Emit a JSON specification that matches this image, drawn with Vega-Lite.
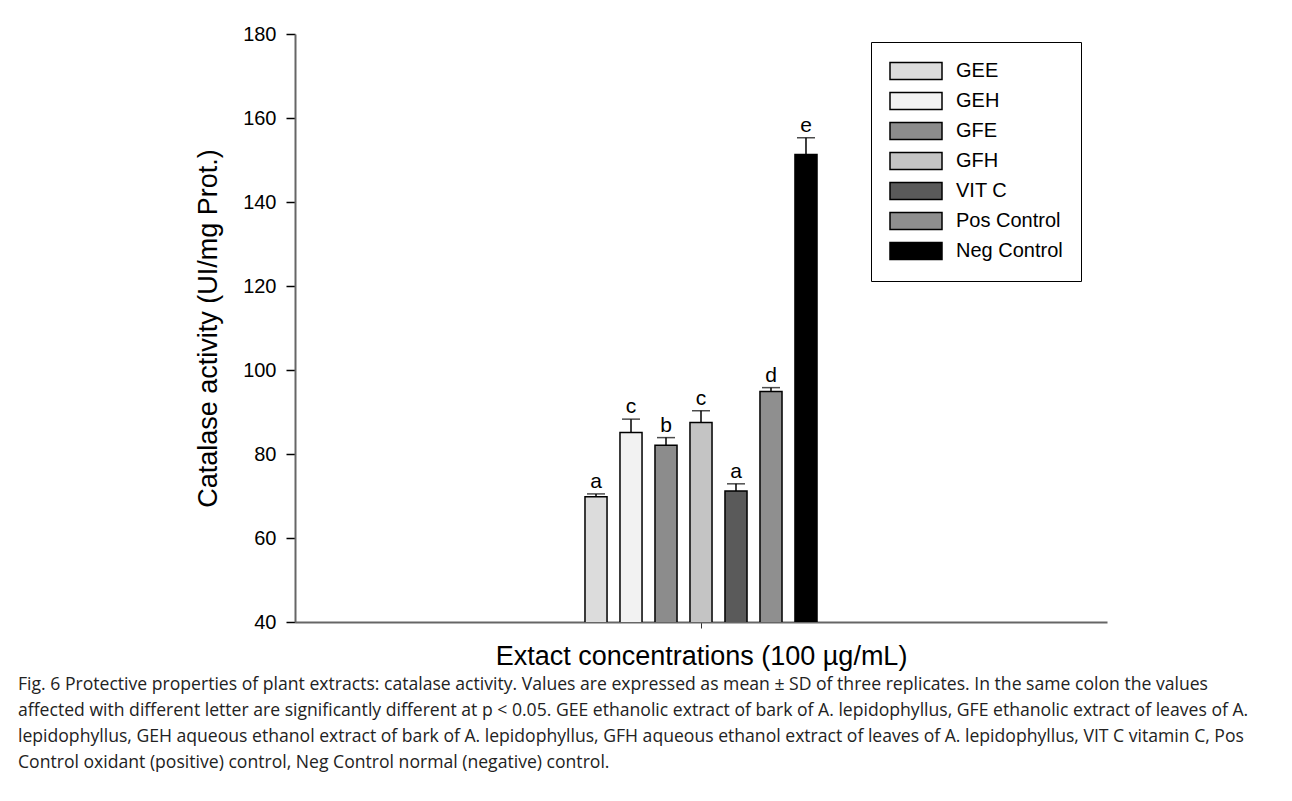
{
  "$schema": "https://vega.github.io/schema/vega-lite/v6.json",
  "autosize": {"type": "none"},
  "padding": {"left": 295, "top": 34, "right": 185, "bottom": 179},
  "width": 812,
  "height": 588,
  "background": "white",
  "config": {
    "font": "Liberation Sans",
    "view": {"stroke": null}
  },
  "title": {
    "text": [
      "Fig. 6  Protective properties of plant extracts: catalase activity. Values are expressed as mean ± SD of three replicates. In the same colon the values",
      "affected with different letter are significantly different at p < 0.05. GEE ethanolic extract of bark of A. lepidophyllus, GFE ethanolic extract of leaves of A.",
      "lepidophyllus, GEH aqueous ethanol extract of bark of A. lepidophyllus, GFH aqueous ethanol extract of leaves of A. lepidophyllus, VIT C vitamin C, Pos",
      "Control oxidant (positive) control, Neg Control normal (negative) control."
    ],
    "orient": "bottom",
    "anchor": "start",
    "frame": "group",
    "dx": -277,
    "offset": 6,
    "font": "Open Sans",
    "fontSize": 17.6,
    "fontWeight": "normal",
    "lineHeight": 26,
    "color": "#222222"
  },
  "data": {
    "values": [
      {"conc": "100 µg/mL", "group": "GEE", "mean": 69.8, "upper": 70.5, "letter": "a"},
      {"conc": "100 µg/mL", "group": "GEH", "mean": 85.1, "upper": 88.3, "letter": "c"},
      {"conc": "100 µg/mL", "group": "GFE", "mean": 82.1, "upper": 83.9, "letter": "b"},
      {"conc": "100 µg/mL", "group": "GFH", "mean": 87.5, "upper": 90.3, "letter": "c"},
      {"conc": "100 µg/mL", "group": "VIT C", "mean": 71.2, "upper": 72.9, "letter": "a"},
      {"conc": "100 µg/mL", "group": "Pos Control", "mean": 94.9, "upper": 95.8, "letter": "d"},
      {"conc": "100 µg/mL", "group": "Neg Control", "mean": 151.3, "upper": 155.3, "letter": "e"}
    ]
  },
  "encoding": {
    "x": {
      "field": "conc",
      "type": "nominal",
      "scale": {"type": "band", "paddingInner": 0, "paddingOuter": 1},
      "axis": {
        "title": "Extact concentrations (100 µg/mL)",
        "labels": false,
        "ticks": true,
        "tickSize": 6,
        "tickColor": "#333333",
        "domainColor": "#666666",
        "domainWidth": 2,
        "titleFontSize": 27,
        "titleFontWeight": "normal",
        "titleColor": "#000000",
        "titlePadding": 15
      }
    },
    "xOffset": {
      "field": "group",
      "type": "nominal",
      "sort": ["GEE", "GEH", "GFE", "GFH", "VIT C", "Pos Control", "Neg Control"],
      "scale": {"paddingInner": 0.37, "paddingOuter": 0.552}
    }
  },
  "layer": [
    {
      "mark": {"type": "bar", "stroke": "#000000", "strokeWidth": 1.5, "opacity": 1, "clip": true},
      "encoding": {
        "y": {
          "field": "mean",
          "type": "quantitative",
          "scale": {"domain": [40, 180], "zero": false, "nice": false},
          "axis": {
            "title": "Catalase activity (UI/mg Prot.)",
            "values": [40, 60, 80, 100, 120, 140, 160, 180],
            "grid": false,
            "tickSize": 9,
            "tickColor": "#000000",
            "tickWidth": 1.5,
            "domainColor": "#666666",
            "domainWidth": 2,
            "labelFontSize": 20,
            "labelColor": "#000000",
            "labelPadding": 10,
            "titleFontSize": 27,
            "titleFontWeight": "normal",
            "titleColor": "#000000",
            "titlePadding": 20
          }
        },
        "fill": {
          "field": "group",
          "type": "nominal",
          "sort": ["GEE", "GEH", "GFE", "GFH", "VIT C", "Pos Control", "Neg Control"],
          "scale": {"range": ["#dcdcdc", "#f2f2f2", "#8c8c8c", "#c4c4c4", "#5a5a5a", "#8f8f8f", "#000000"]},
          "legend": {
            "title": null,
            "orient": "none",
            "legendX": 576,
            "legendY": 8,
            "strokeColor": "#000000",
            "fillColor": "#ffffff",
            "padding": 18,
            "symbolType": "M-1,-0.85H4.2V0.85H-1Z",
            "symbolSize": 400,
            "symbolStrokeColor": "#000000",
            "symbolStrokeWidth": 1.5,
            "symbolOpacity": 1,
            "labelFontSize": 20,
            "labelColor": "#000000",
            "labelOffset": 45,
            "rowPadding": 6
          }
        }
      }
    },
    {
      "mark": {"type": "rule", "color": "#000000", "strokeWidth": 1.5},
      "encoding": {
        "y": {"field": "mean", "type": "quantitative"},
        "y2": {"field": "upper"}
      }
    },
    {
      "mark": {"type": "tick", "color": "#000000", "size": 18, "thickness": 1.5, "orient": "horizontal"},
      "encoding": {
        "y": {"field": "upper", "type": "quantitative"}
      }
    },
    {
      "mark": {"type": "text", "baseline": "bottom", "dy": -2, "fontSize": 21, "color": "#000000"},
      "encoding": {
        "y": {"field": "upper", "type": "quantitative"},
        "text": {"field": "letter"}
      }
    }
  ]
}
